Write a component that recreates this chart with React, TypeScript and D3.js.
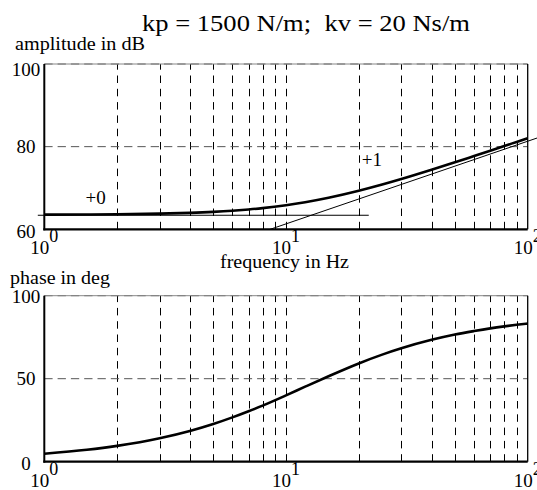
import React from 'react';
import { scaleLog, scaleLinear, line, curveMonotoneX, range } from 'd3';

// frequency samples (Hz) and the values
const freqs = [1, 1.5, 2, 3, 4, 5, 6, 7, 8, 10, 12, 15, 20, 25, 30, 40, 50, 60, 70, 80, 90, 100];
const amplitudeDb = [63.55, 63.59, 63.64, 63.79, 63.98, 64.22, 64.5, 64.81, 65.13, 65.83, 66.56, 67.64, 69.33, 70.83, 72.16, 74.4, 76.2, 77.72, 79.01, 80.14, 81.15, 82.05];
const phaseDeg = [4.79, 7.16, 9.52, 14.1, 18.5, 22.7, 26.7, 30.4, 33.8, 39.96, 45.2, 51.5, 59.2, 64.5, 68.3, 73.4, 76.6, 78.7, 80.3, 81.5, 82.45, 83.2];

// asymptotes (+0 and +1 slope)
const flatFreqs = [0.94, 22];
const flatDb = [63.4, 63.4];
const slopeFreqs = [8.6, 110];
const slopeDb = [60, 82.14];

const ampTicks = [60, 80, 100];
const phaseTicks = [0, 50, 100];
const decades = [0, 1, 2];

const serif = { fontFamily: 'Liberation Serif' };

const x = scaleLog().domain([1, 100]).range([44.3, 527.7]);
const yAmp = scaleLinear().domain([60, 100]).range([229.3, 64]);
const yPh = scaleLinear().domain([0, 100]).range([461.7, 295.7]);

// vertical gridlines at 2..9, 10, 20..90
const vGrid = [];
[1, 10].forEach(d => range(2, 11).forEach(m => vGrid.push(d * m)));
const gridFreqs = vGrid.filter(f => f < 100);

function Label({ children, ...rest }) {
  return <text style={serif} fontSize={19} {...rest}>{children}</text>;
}

function Panel({ y, ticks, labelDy, children }) {
  const [y0, y1] = y.range();
  const [x0, x1] = x.range();
  return (
    <g>
      {gridFreqs.map(f => {
        const xx = Math.round(x(f)) + 0.5;
        return (
          <line key={'v' + f} x1={xx} x2={xx} y1={y0} y2={y1}
            stroke="#000" strokeWidth={1} strokeDasharray="7.5,5.8" />
        );
      })}
      {ticks.slice(1).map(t => (
        <line key={'h' + t} x1={x0} x2={x1} y1={y(t)} y2={y(t)}
          stroke="#555" strokeWidth={1} strokeDasharray="8.3,5" />
      ))}
      <line x1={x0} x2={x1} y1={y1} y2={y1} stroke="#888" strokeWidth={1} />
      <line x1={x1} x2={x1} y1={y1} y2={y0} stroke="#000" strokeWidth={1.3} />
      <line x1={x0} x2={x0} y1={y1} y2={y0 + 1} stroke="#000" strokeWidth={2} />
      <line x1={x0 - 1} x2={x1} y1={y0} y2={y0} stroke="#000" strokeWidth={2.2} />
      {ticks.map((t, i) => (
        <Label key={'yt' + t} x={26} y={y(t) + labelDy[i]} textAnchor="middle">{t}</Label>
      ))}
      {decades.map(d => (
        <Label key={'xt' + d} x={x(Math.pow(10, d))} y={y0 + 25} textAnchor="middle">
          <tspan>10</tspan>
          <tspan dy={-12} fontSize={18}>{d}</tspan>
        </Label>
      ))}
      {children}
    </g>
  );
}

export default function App() {
  const thin = (xs, ys) => line().x((d, i) => x(xs[i])).y(d => yAmp(d))(ys);
  const ampPath = line().x((d, i) => x(freqs[i])).y(d => yAmp(d)).curve(curveMonotoneX)(amplitudeDb);
  const phPath = line().x((d, i) => x(freqs[i])).y(d => yPh(d)).curve(curveMonotoneX)(phaseDeg);

  return (
    <svg
      xmlns="http://www.w3.org/2000/svg"
      width="537"
      height="490"
      viewBox="0 0 537 490"
      style={{ position: 'absolute', left: 0, top: 0, background: '#fff' }}
    >
      <Panel y={yAmp} ticks={ampTicks} labelDy={[9, 6.5, 12]}>
        <path d={thin(flatFreqs, flatDb)} fill="none" stroke="#000" strokeWidth={1} />
        <path d={thin(slopeFreqs, slopeDb)} fill="none" stroke="#000" strokeWidth={1} />
        <path d={ampPath} fill="none" stroke="#000" strokeWidth={2.6} />
        <Label x={x(1.48)} y={yAmp(66.2)}>+0</Label>
        <Label x={x(20.6)} y={yAmp(75.4)}>+1</Label>
      </Panel>
      <Panel y={yPh} ticks={phaseTicks} labelDy={[8.5, 6.5, 7]}>
        <path d={phPath} fill="none" stroke="#000" strokeWidth={2.6} />
      </Panel>

      <text x={306} y={31} textAnchor="middle" fontSize={24} textLength={328}
        lengthAdjust="spacingAndGlyphs" style={{ ...serif, whiteSpace: 'pre' }}>
        kp = 1500 N/m;  kv = 20 Ns/m
      </text>
      <Label x={15} y={50} textLength={130} lengthAdjust="spacingAndGlyphs">amplitude in dB</Label>
      <Label x={220} y={268} textLength={129} lengthAdjust="spacingAndGlyphs">frequency in Hz</Label>
      <Label x={10} y={284} textLength={100} lengthAdjust="spacingAndGlyphs">phase in deg</Label>
    </svg>
  );
}
